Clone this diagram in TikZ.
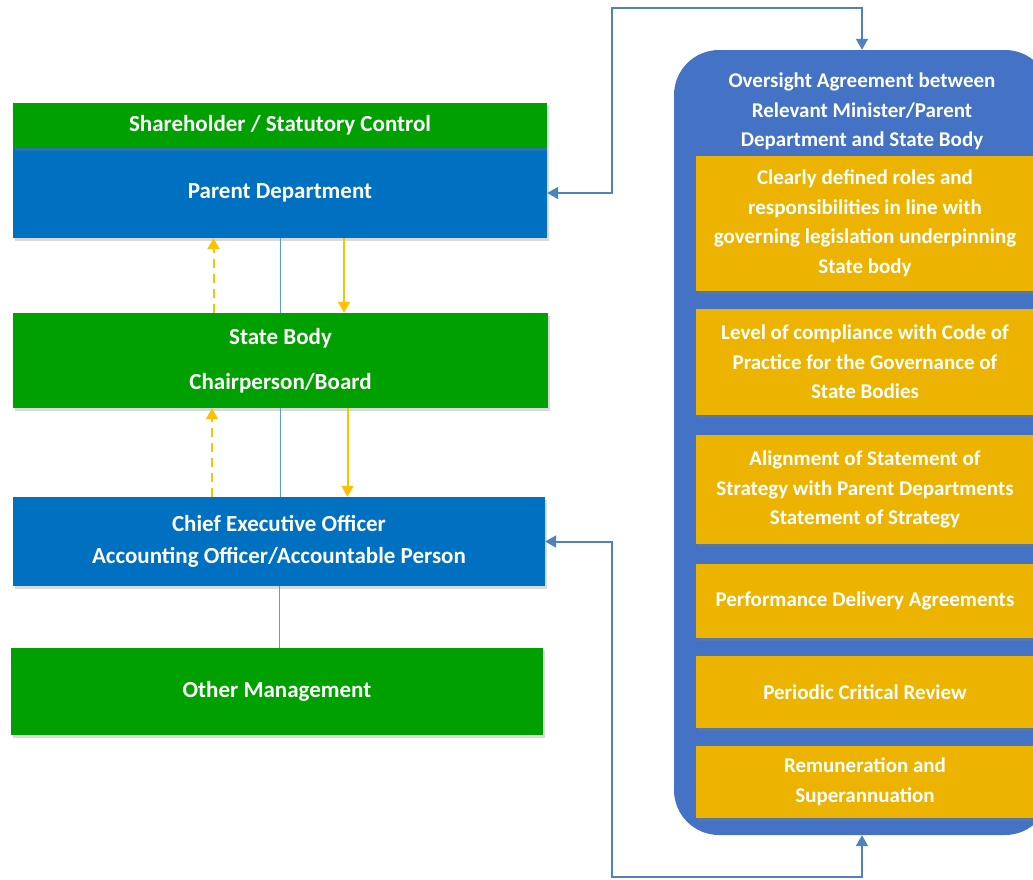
\documentclass[tikz,border=0pt]{standalone}
\usepackage{fontspec}
\setmainfont{Carlito}
\usetikzlibrary{shadows,arrows.meta}
\definecolor{boxgreen}{RGB}{0,160,0}
\definecolor{boxblue}{RGB}{0,112,192}
\definecolor{panelblue}{RGB}{68,114,196}
\definecolor{itemgold}{RGB}{236,180,0}
\definecolor{flowamber}{RGB}{255,192,0}
\definecolor{linkblue}{RGB}{79,129,189}
\definecolor{stemblue}{RGB}{91,155,213}

\begin{document}
\begin{tikzpicture}[x=1pt, y=-1pt,
  caption/.style={rectangle, inner sep=0pt, text=white, align=center,
    font=\bfseries\fontsize{21}{29.5}\selectfont},
  box/.style={caption, drop shadow={shadow xshift=2pt, shadow yshift=-3pt, opacity=0.3}},
  greenbox/.style={box, fill=boxgreen, font=\bfseries\fontsize{23}{30}\selectfont},
  bluebox/.style={box, fill=boxblue, font=\bfseries\fontsize{23}{30}\selectfont},
  item/.style={box, fill=itemgold, minimum width=338},
  panel/.style={rectangle, rounded corners=45pt, fill=panelblue, inner sep=0pt},
  link/.style={{Triangle[width=12pt,length=11pt]}-{Triangle[width=12pt,length=11pt]}, linkblue, line width=2pt},
  down/.style={-{Triangle[width=12pt,length=11pt]}, flowamber, line width=2pt},
  up/.style={down, dash pattern=on 9pt off 6pt},
  stem/.style={stemblue, line width=1pt},
]
  \useasboundingbox (0,0) rectangle (1033,879);
  \clip (0,0) rectangle (1033,879);

  % left column
  \node[bluebox, minimum width=534, minimum height=90] (parent) at (280,193) {Parent Department};
  \node[greenbox, minimum width=534, minimum height=45] (control) at (280,125.5) {Shareholder / Statutory Control};
  \node[greenbox, minimum width=535, minimum height=95] (state) at (280.5,360.5) {State Body\\[15pt]Chairperson/Board};
  \node[bluebox, minimum width=532, minimum height=89] (ceo) at (279,541.5) {Chief Executive Officer\\[2pt]Accounting Officer/Accountable Person};
  \node[greenbox, minimum width=532, minimum height=87] (other) at (277,691.5) {Other Management};

  \draw[stem] (parent.south) -- (parent.south |- state.north);
  \draw[stem] (state.south) -- (state.south |- ceo.north);
  \draw[stem] (ceo.south) -- (ceo.south |- other.north);

  \draw[up] ([xshift=-67]state.north) -- ([xshift=-67]state.north |- parent.south);
  \draw[down] ([xshift=64]parent.south) -- ([xshift=64]parent.south |- state.north);
  \draw[up] ([xshift=-67]ceo.north) -- ([xshift=-67]ceo.north |- state.south);
  \draw[down] ([xshift=67]state.south) -- ([xshift=67]state.south |- ceo.north);

  % oversight panel
  \node[panel, minimum width=376, minimum height=785] (panel) at (862,442.5) {};
  \node[caption] (title) at (862,111.5) {Oversight Agreement between\\Relevant Minister/Parent\\Department and State Body};
  \node[item, minimum height=135] (roles) at (865,223.5) {Clearly defined roles and\\responsibilities in line with\\governing legislation underpinning\\State body};
  \node[item, minimum height=106] (code) at (865,362) {Level of compliance with Code of\\Practice for the Governance of\\State Bodies};
  \node[item, minimum height=109] (strategy) at (865,489.5) {Alignment of Statement of\\Strategy with Parent Departments\\Statement of Strategy};
  \node[item, minimum height=74] (delivery) at (865,601) {Performance Delivery Agreements};
  \node[item, minimum height=72] (review) at (865,692) {Periodic Critical Review};
  \node[item, minimum height=72] (pay) at (865,782) {Remuneration and\\Superannuation};

  \coordinate (topturn) at (612,8);
  \coordinate (botturn) at (612,877);
  \draw[link] (parent.east) -| (topturn) -| (panel.north);
  \draw[link] (ceo.east) -| (botturn) -| (panel.south);
\end{tikzpicture}
\end{document}
